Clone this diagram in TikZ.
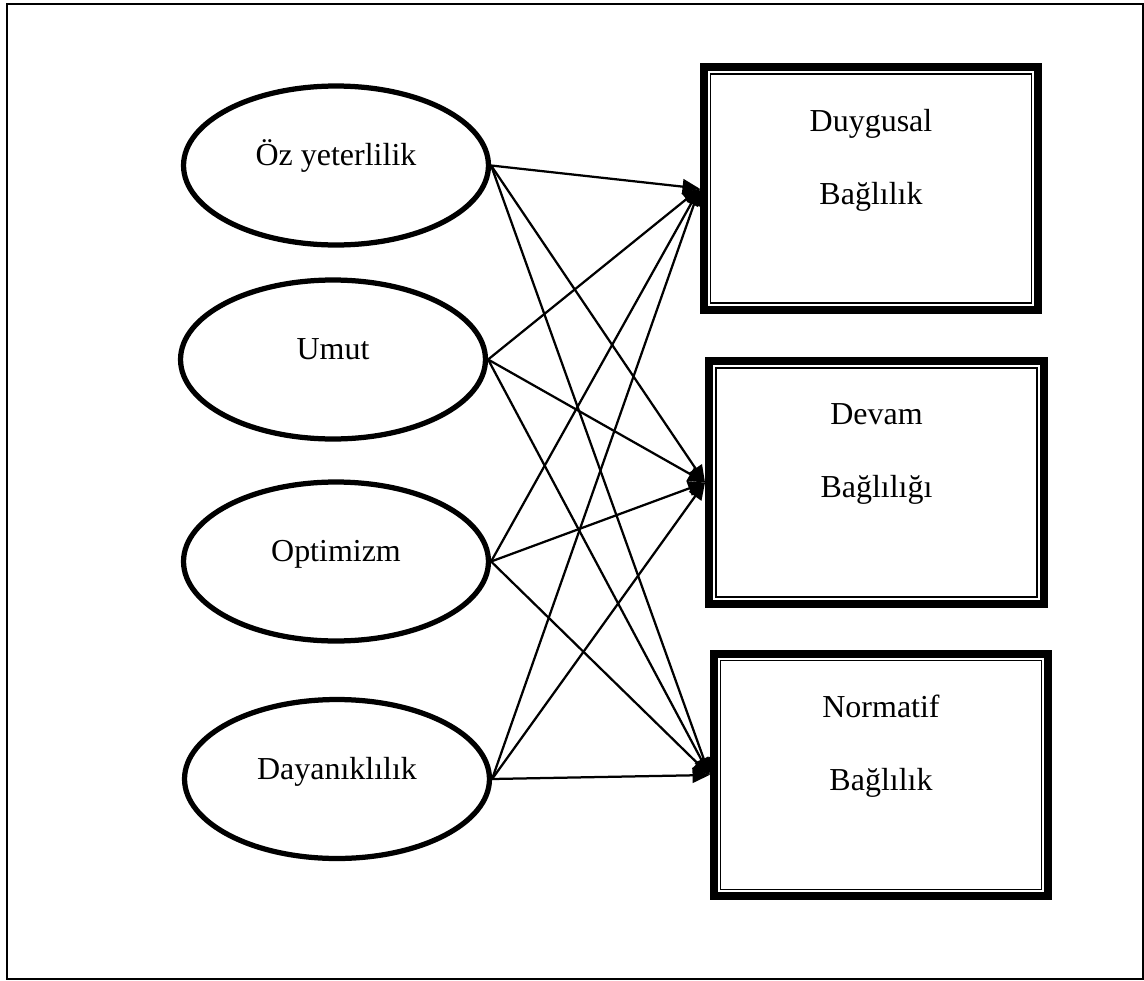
\documentclass[tikz,border=0pt]{standalone}
\usepackage{fontspec}
\setmainfont{Liberation Serif}
\usepackage{tikz}
\usetikzlibrary{arrows.meta, shapes.geometric}

\begin{document}
\begin{tikzpicture}[
  x=0.02cm, y=-0.02cm,
  font=\fontsize{18.2}{41.4}\selectfont,
  oval/.style={draw, ellipse, line width=0.105cm, minimum width=6.1cm, minimum height=3.18cm, text height=1ex, text depth=1ex},
  kutu/.style={draw, line width=0.16cm, minimum width=6.7cm, minimum height=4.86cm},
  ic/.style={line width=0.03cm},
  yazi/.style={align=center},
  arr/.style={-{Triangle[length=0.34cm, width=0.3cm]}, line width=0.045cm}
]
  \useasboundingbox (0,0) rectangle (1144,981);
  \draw[line width=0.04cm] (7,3.5) rectangle (1142.5,979);

  % sol: psikolojik sermaye boyutlari
  \node[oval] (oz) at (336,165.5) {Öz yeterlilik};
  \node[oval] (umut) at (333,359.5) {Umut};
  \node[oval] (opt) at (336,561.5) {Optimizm};
  \node[oval] (day) at (337,779) {Dayanıklılık};

  % sag: orgutsel baglilik
  \node[kutu] (duy) at (871,188.5) {};
  \node[kutu] (dev) at (876.5,482.5) {};
  \node[kutu] (nor) at (881,775) {};
  \foreach \k in {duy,dev,nor}
    \draw[ic] ([xshift=0.22cm,yshift=-0.22cm]\k.north west) rectangle ([xshift=-0.22cm,yshift=0.22cm]\k.south east);

  \node[yazi] (duyt) at ([yshift=0.57cm]duy.center) {Duygusal\\Bağlılık};
  \node[yazi] (devt) at ([yshift=0.57cm]dev.center) {Devam\\Bağlılığı};
  \node[yazi] (nort) at ([yshift=0.57cm]nor.center) {Normatif\\Bağlılık};

  \foreach \s in {oz,umut,opt,day}
    \foreach \t in {duy,dev,nor}
      \draw[arr] (\s.east) -- (\t.west);
\end{tikzpicture}
\end{document}
